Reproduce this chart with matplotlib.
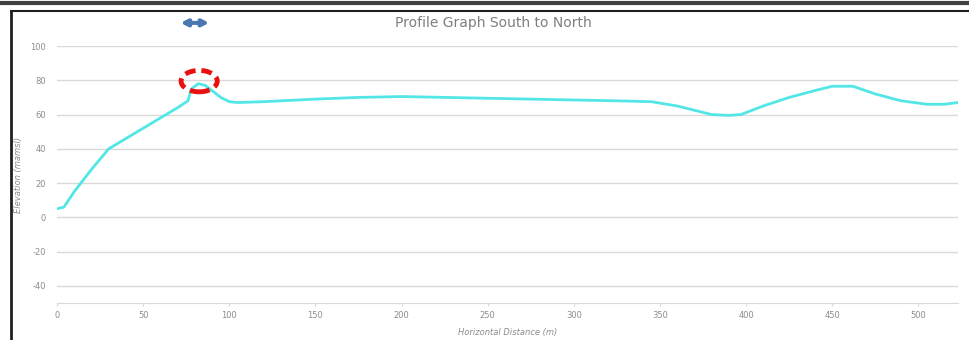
import matplotlib.pyplot as plt
from matplotlib.patches import Ellipse
from matplotlib.lines import Line2D

plt.rcParams['axes.unicode_minus'] = False

# profile data (distance m, elevation mamsl)
distance = [0, 4, 10, 20, 30, 40, 50, 60, 70, 76, 78, 82, 86, 90, 95, 100, 105, 120,
            150, 175, 200, 225, 250, 275, 300, 325, 345, 360, 370, 380, 390, 397,
            410, 425, 440, 450, 462, 475, 490, 505, 515, 523]
elevation = [5, 6, 15, 28, 40, 46, 52, 58, 64, 68, 75, 78, 77, 74, 70, 67.5, 67, 67.5,
             69, 70, 70.5, 70, 69.5, 69, 68.5, 68, 67.5, 65, 62.5, 60, 59.5, 60,
             65, 70, 74, 76.5, 76.5, 72, 68, 66, 66, 67]

y_ticks = [-40, -20, 0, 20, 40, 60, 80, 100]
x_ticks = [0, 50, 100, 150, 200, 250, 300, 350, 400, 450, 500]

fig = plt.figure(figsize=(9.7, 3.4), dpi=100)
ax = fig.add_axes([0.0588, 0.1088, 0.9288, 0.7559])

ax.plot(distance, elevation, color='#52e6e6', linewidth=2, solid_capstyle='round')

ax.set_xlim(0, 523)
ax.set_ylim(-50, 100)
ax.set_yticks(y_ticks)
ax.set_xticks(x_ticks)
ax.grid(axis='y', color='#d9d9d9', linewidth=1)
ax.set_axisbelow(True)
for s in ['top', 'right', 'left']:
    ax.spines[s].set_visible(False)
ax.spines['bottom'].set_color('#d9d9d9')
ax.tick_params(axis='both', colors='#d9d9d9', labelcolor='#8c8c8c', labelsize=6, length=2)
ax.tick_params(axis='y', length=0, pad=8)

ax.set_xlabel('Horizontal Distance (m)', fontsize=6, color='#8c8c8c', style='italic', labelpad=6)
ax.set_ylabel('Elevation (mamsl)', fontsize=6, color='#8c8c8c', style='italic', labelpad=5)
ax.set_title('Profile Graph South to North', fontsize=10, color='#7f7f7f', pad=14, x=0.484)

# red dashed circle around the peak
ax.add_patch(Ellipse((82.5, 79.5), 21, 12.5, fill=False, edgecolor='#e81010',
                     linewidth=3.5, linestyle=(0, (2.2, 1.2)), zorder=5, clip_on=False))

# blue double arrow above the peak
ax.annotate('', xy=(70, 113.5), xytext=(81, 113.5), annotation_clip=False,
            arrowprops=dict(arrowstyle='-|>', color='#4a78b0', lw=3, mutation_scale=9))
ax.annotate('', xy=(90, 113.5), xytext=(79, 113.5), annotation_clip=False,
            arrowprops=dict(arrowstyle='-|>', color='#4a78b0', lw=3, mutation_scale=9))

# screenshot frame
fig.add_artist(Line2D([0, 1], [0.99, 0.99], color='#404040', linewidth=3, transform=fig.transFigure))
fig.add_artist(Line2D([0.0113, 1], [0.9676, 0.9676], color='#202020', linewidth=1.5, transform=fig.transFigure))
fig.add_artist(Line2D([0.0113, 0.0113], [0, 0.9676], color='#202020', linewidth=2, transform=fig.transFigure))

fig.savefig('out.png', dpi=100)
